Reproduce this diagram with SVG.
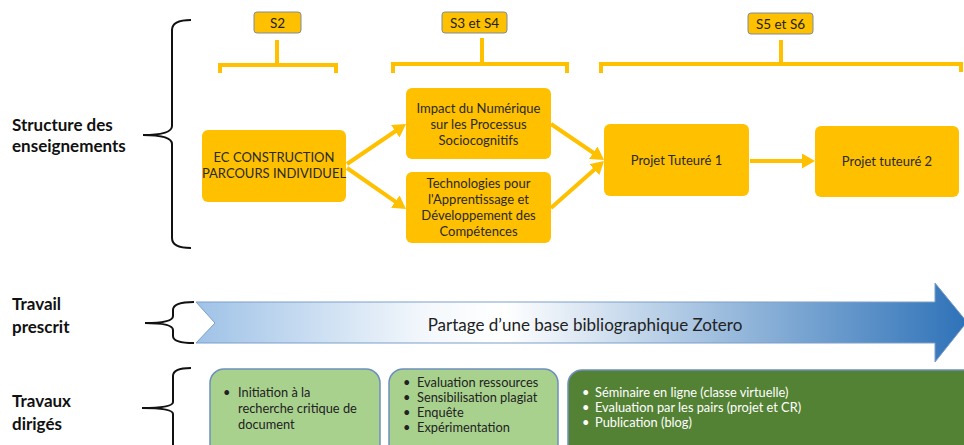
<svg xmlns="http://www.w3.org/2000/svg" width="964" height="445" viewBox="0 0 964 445">
<style>
text{font-family:Lato,"Open Sans","Liberation Sans",sans-serif;}
.lab{font-size:17px;font-weight:bold;fill:#111;}
.sem{fill:#ffc000;stroke:#7f8c99;stroke-width:1;}
.semt{font-size:13.5px;fill:#222;text-anchor:middle;}
.node{fill:#ffc000;}
.nt{font-size:13px;fill:#2a2a2a;text-anchor:middle;}
.brk{fill:none;stroke:#ffc000;stroke-width:4;}
.brace{fill:none;stroke:#111;stroke-width:2;}
.conn{stroke:#ffc000;stroke-width:4;fill:none;marker-end:url(#ah);}
.gl{fill:#a9d18e;stroke:#6d8ebf;stroke-width:1.5;}
.gd{fill:#548235;stroke:#6d8ebf;stroke-width:1.5;}
.bt{font-size:12.8px;fill:#222;}
.wt{font-size:12.8px;fill:#fff;}
</style>
<defs>
<marker id="ah" markerUnits="userSpaceOnUse" markerWidth="14" markerHeight="15" refX="4" refY="7.5" orient="auto" viewBox="0 0 14 15">
<path d="M0,0 L13,7.5 L0,15 Z" fill="#ffc000"/>
</marker>
<linearGradient id="blue" x1="196" y1="0" x2="967" y2="0" gradientUnits="userSpaceOnUse">
<stop offset="0" stop-color="#9fc2e7"/>
<stop offset="0.3" stop-color="#f4f8fc"/>
<stop offset="0.4" stop-color="#ffffff"/>
<stop offset="1" stop-color="#2e72b8"/>
</linearGradient>
</defs>

<g id="labels">
<text class="lab" x="12" y="131">Structure des</text>
<text class="lab" x="12" y="152">enseignements</text>
<text class="lab" x="12" y="310">Travail</text>
<text class="lab" x="12" y="333">prescrit</text>
<text class="lab" x="12" y="407">Travaux</text>
<text class="lab" x="12" y="430">dirigés</text>
</g>

<g id="braces">
<path class="brace" d="M191,20 Q172,20 172,30 L172,126 Q172,135 143,135 Q172,135 172,144 L172,238 Q172,248 191,248"/>
<path class="brace" d="M194,302 Q173,302 173,310 L173,316 Q173,323 145,323 Q173,323 173,330 L173,336 Q173,343 194,343"/>
<path class="brace" d="M191,368 Q173,368 173,376 L173,402 Q173,408 142,408 Q173,408 173,414 L173,450"/>
</g>

<g id="semesters">
<g id="s2"><rect class="sem" x="254" y="12" width="47" height="21" rx="3"/><text class="semt" x="277.5" y="28">S2</text></g>
<g id="s34"><rect class="sem" x="442" y="12" width="65" height="21" rx="3"/><text class="semt" x="474.5" y="28">S3 et S4</text></g>
<g id="s56"><rect class="sem" x="748" y="13" width="65" height="21" rx="3"/><text class="semt" x="780.5" y="29">S5 et S6</text></g>
<path class="brk" d="M277,40 L277,64 M220,73 L220,65 L336,65 L336,73"/>
<path class="brk" d="M482,38 L482,64 M393,73 L393,64 L567,64 L567,73"/>
<path class="brk" d="M781,40 L781,63 M601,73 L601,64 L961,64 L961,72"/>
</g>

<g id="ec">
<rect class="node" x="202" y="130" width="144" height="72" rx="6"/>
<text class="nt" x="274" y="162">EC CONSTRUCTION</text>
<text class="nt" x="274" y="178">PARCOURS INDIVIDUEL</text>
</g>
<g id="impact">
<rect class="node" x="406" y="88" width="145" height="71" rx="6"/>
<text class="nt" x="478.5" y="113">Impact du Numérique</text>
<text class="nt" x="478.5" y="129">sur les Processus</text>
<text class="nt" x="478.5" y="145">Sociocognitifs</text>
</g>
<g id="techno">
<rect class="node" x="406" y="172" width="145" height="71" rx="6"/>
<text class="nt" x="478.5" y="188">Technologies pour</text>
<text class="nt" x="478.5" y="204">l'Apprentissage et</text>
<text class="nt" x="478.5" y="220">Développement des</text>
<text class="nt" x="478.5" y="236">Compétences</text>
</g>
<g id="pt1">
<rect class="node" x="604" y="124" width="145" height="72" rx="6"/>
<text class="nt" x="676.5" y="165">Projet Tuteuré 1</text>
</g>
<g id="pt2">
<rect class="node" x="815" y="126" width="144" height="71" rx="6"/>
<text class="nt" x="887" y="166">Projet tuteuré 2</text>
</g>

<g id="connectors">
<line class="conn" x1="347" y1="164" x2="398.6" y2="129"/>
<line class="conn" x1="347" y1="168" x2="398.6" y2="203.9"/>
<line class="conn" x1="551" y1="124" x2="596.6" y2="155"/>
<line class="conn" x1="551" y1="208" x2="597.3" y2="167"/>
<line class="conn" x1="750" y1="161" x2="806" y2="161"/>
</g>

<g id="prescrit">
<path d="M196,302 L935,302 L935,283 L967,322 L935,362 L935,343 L196,343 L215,323 Z" fill="url(#blue)" stroke="#7d9fc9" stroke-width="1"/>
<text x="585" y="331" font-size="17" fill="#222" text-anchor="middle">Partage d’une base bibliographique Zotero</text>
</g>

<g id="td1">
<rect class="gl" x="210" y="369" width="170" height="100" rx="14"/>
<text class="bt" x="223" y="397">•</text>
<text class="bt" x="238" y="397">Initiation à la</text>
<text class="bt" x="238" y="413">recherche critique de</text>
<text class="bt" x="238" y="429">document</text>
</g>
<g id="td2">
<rect class="gl" x="389" y="369" width="169" height="100" rx="14"/>
<text class="bt" x="403" y="387">•</text><text class="bt" x="417" y="387">Evaluation ressources</text>
<text class="bt" x="403" y="402">•</text><text class="bt" x="417" y="402">Sensibilisation plagiat</text>
<text class="bt" x="403" y="417">•</text><text class="bt" x="417" y="417">Enquête</text>
<text class="bt" x="403" y="432">•</text><text class="bt" x="417" y="432">Expérimentation</text>
</g>
<g id="td3">
<rect class="gd" x="568" y="370" width="420" height="100" rx="14"/>
<text class="wt" x="582" y="397">•</text><text class="wt" x="595" y="397">Séminaire en ligne (classe virtuelle)</text>
<text class="wt" x="582" y="412">•</text><text class="wt" x="595" y="412">Evaluation par les pairs (projet et CR)</text>
<text class="wt" x="582" y="427">•</text><text class="wt" x="595" y="427">Publication (blog)</text>
</g>
</svg>
